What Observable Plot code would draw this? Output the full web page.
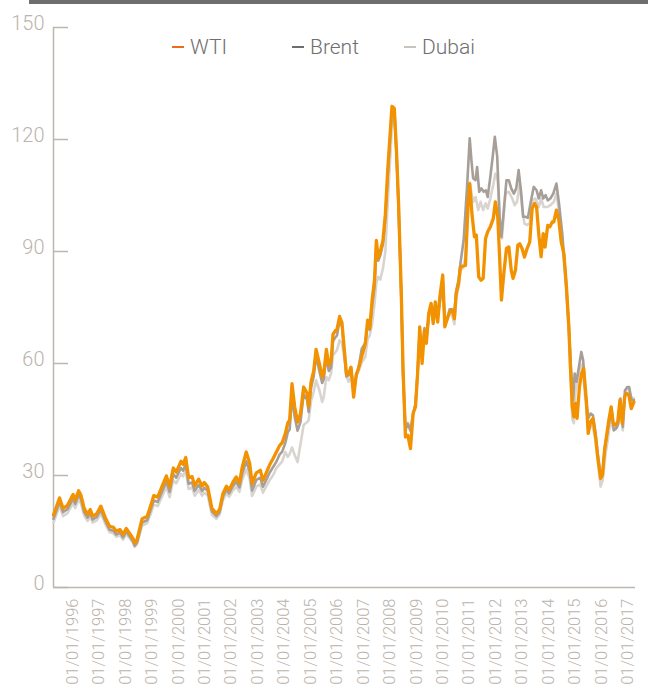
<!DOCTYPE html>
<html>
<head>
<meta charset="utf-8">
<script src="https://cdn.jsdelivr.net/npm/d3@7"></script>
<script src="https://cdn.jsdelivr.net/npm/@observablehq/plot@0.6"></script>
<style>
  body { margin: 0; background: #fff; }
  #wrap { position: relative; width: 648px; height: 686px; overflow: hidden;
          font-family: Roboto, "Helvetica Neue", Helvetica, "Liberation Sans", Arial, sans-serif; }
  #bar { position: absolute; left: 29px; top: 0; width: 619px; height: 4px; background: #6e6e6e; }
  #legend { position: absolute; left: 172px; top: 35px; display: flex; font-size: 21px;
            font-weight: 300; color: #6e6e6e; line-height: 24px; z-index: 2; }
  .item { display: flex; align-items: center; }
  .dash { display: inline-block; width: 12px; height: 2px; margin-right: 6px; }
  #chart { position: absolute; left: 0; top: 0; }
</style>
</head>
<body>
<div id="wrap"><div id="bar"></div><div id="chart"></div><div id="legend"></div></div>
<script>
// ---- data ----
const seriesNames = ["WTI", "Brent", "Dubai"];
const seriesColors = ["#f39200", "#a69e97", "#d9d4cf"];
const legendDashColors = ["#ee6a1c", "#6e6e6e", "#c9c3bd"];

const yTicks = [0, 30, 60, 90, 120, 150];
const xTickYears = [1996,1997,1998,1999,2000,2001,2002,2003,2004,2005,2006,2007,2008,2009,2010,2011,2012,2013,2014,2015,2016,2017];
const xTickLabels = ["01/01/1996","01/01/1997","01/01/1998","01/01/1999","01/01/2000","01/01/2001","01/01/2002","01/01/2003","01/01/2004","01/01/2005","01/01/2006","01/01/2007","01/01/2008","01/01/2009","01/01/2010","01/01/2011","01/01/2012","01/01/2013","01/01/2014","01/01/2015","01/01/2016","01/01/2017"];
const xDomain = [1995.28, 2017.29];

const wtiYear = [1995.28,1995.51,1995.64,1995.81,1996.02,1996.10,1996.23,1996.32,1996.44,1996.57,1996.67,1996.76,1996.92,1997.07,1997.24,1997.40,1997.55,1997.65,1997.80,1997.91,1998.03,1998.18,1998.29,1998.35,1998.44,1998.63,1998.82,1998.96,1999.07,1999.22,1999.38,1999.55,1999.67,1999.81,1999.92,2000.10,2000.18,2000.28,2000.39,2000.52,2000.62,2000.77,2000.90,2000.98,2001.11,2001.27,2001.44,2001.56,2001.69,2001.82,2001.92,2002.07,2002.19,2002.31,2002.42,2002.57,2002.70,2002.79,2002.95,2003.10,2003.20,2003.29,2003.45,2003.58,2003.71,2003.83,2003.93,2004.05,2004.14,2004.21,2004.30,2004.40,2004.51,2004.62,2004.74,2004.87,2004.93,2005.02,2005.12,2005.21,2005.35,2005.44,2005.50,2005.60,2005.69,2005.78,2005.85,2005.94,2006.00,2006.10,2006.19,2006.28,2006.36,2006.44,2006.53,2006.63,2006.73,2006.82,2006.94,2007.07,2007.16,2007.24,2007.33,2007.42,2007.49,2007.56,2007.64,2007.74,2007.83,2007.92,2008.02,2008.08,2008.17,2008.25,2008.33,2008.43,2008.50,2008.59,2008.68,2008.78,2008.88,2008.97,2009.05,2009.13,2009.22,2009.31,2009.38,2009.47,2009.56,2009.64,2009.72,2009.81,2009.89,2010.00,2010.08,2010.17,2010.26,2010.36,2010.44,2010.51,2010.60,2010.67,2010.76,2010.86,2010.95,2011.02,2011.11,2011.20,2011.27,2011.36,2011.45,2011.53,2011.62,2011.70,2011.80,2011.91,2011.99,2012.08,2012.15,2012.22,2012.31,2012.41,2012.50,2012.59,2012.66,2012.75,2012.84,2012.91,2013.00,2013.09,2013.19,2013.29,2013.38,2013.47,2013.55,2013.63,2013.72,2013.80,2013.87,2013.97,2014.05,2014.14,2014.20,2014.30,2014.39,2014.48,2014.58,2014.68,2014.77,2014.83,2014.90,2014.96,2015.02,2015.08,2015.17,2015.25,2015.33,2015.43,2015.50,2015.59,2015.68,2015.78,2015.86,2015.97,2016.04,2016.12,2016.19,2016.28,2016.37,2016.45,2016.53,2016.62,2016.70,2016.79,2016.88,2016.95,2017.04,2017.13,2017.23];
const wtiPrice = [19.4,24.0,21.2,22.0,24.9,23.4,25.9,24.7,21.2,19.6,20.9,19.1,19.8,21.8,18.7,16.4,16.1,15.1,15.5,14.2,15.8,14.3,13.1,11.9,12.9,18.4,19.0,22.0,24.6,24.2,27.0,29.9,27.0,32.0,30.9,33.8,33.0,34.8,29.4,29.7,27.3,29.0,27.2,28.1,27.0,21.2,19.8,20.9,25.2,27.1,26.1,28.3,29.6,28.0,32.3,36.3,33.2,27.9,30.7,31.4,28.7,30.1,32.8,34.5,36.3,38.0,38.8,41.3,44.1,44.8,54.6,48.4,44.3,46.5,53.7,52.0,48.5,55.0,58.0,63.8,59.5,56.4,57.3,63.8,59.5,60.9,67.8,68.8,69.1,72.6,70.9,63.6,57.0,57.2,59.0,51.0,57.0,58.8,62.0,65.2,71.6,69.4,77.0,82.3,93.0,88.3,90.0,93.0,100.0,111.8,122.5,128.9,128.3,117.1,102.9,79.6,58.5,40.3,40.8,37.2,46.6,48.4,57.3,69.8,60.0,68.9,65.4,73.4,76.1,70.7,76.5,71.1,77.8,83.7,69.8,72.0,73.8,74.3,72.0,78.8,81.4,85.9,86.1,86.3,101.9,108.2,99.7,93.9,94.4,83.2,82.3,82.8,93.5,95.3,96.6,98.8,103.3,99.3,88.6,77.0,84.1,90.8,91.2,85.0,82.8,85.0,91.7,92.1,90.8,88.5,90.8,92.5,101.5,102.9,101.9,94.8,88.6,94.8,91.2,97.0,96.6,97.9,97.9,101.1,98.4,92.6,89.5,80.5,69.8,59.1,48.4,45.7,49.3,45.3,53.7,57.3,58.7,50.2,41.3,44.4,45.3,40.3,35.0,29.2,30.1,36.8,40.3,44.8,48.4,43.9,43.5,44.4,50.2,43.9,51.1,52.0,51.5,47.9,49.7];

const brentYear = [1995.28,1995.51,1995.64,1995.81,1996.02,1996.10,1996.23,1996.32,1996.44,1996.57,1996.67,1996.76,1996.92,1997.07,1997.24,1997.40,1997.55,1997.65,1997.80,1997.91,1998.03,1998.18,1998.29,1998.35,1998.44,1998.63,1998.82,1998.96,1999.07,1999.22,1999.38,1999.55,1999.67,1999.81,1999.92,2000.10,2000.18,2000.28,2000.39,2000.52,2000.62,2000.77,2000.90,2000.98,2001.11,2001.27,2001.44,2001.56,2001.69,2001.82,2001.92,2002.07,2002.19,2002.31,2002.42,2002.57,2002.70,2002.79,2002.95,2003.10,2003.20,2003.29,2003.45,2003.58,2003.71,2003.83,2003.93,2004.05,2004.14,2004.21,2004.30,2004.40,2004.51,2004.62,2004.74,2004.87,2004.93,2005.02,2005.12,2005.21,2005.35,2005.44,2005.50,2005.60,2005.69,2005.78,2005.85,2005.94,2006.00,2006.10,2006.19,2006.28,2006.36,2006.44,2006.53,2006.63,2006.73,2006.82,2006.94,2007.07,2007.16,2007.24,2007.33,2007.42,2007.49,2007.56,2007.64,2007.74,2007.83,2007.92,2008.02,2008.08,2008.17,2008.25,2008.33,2008.43,2008.50,2008.59,2008.68,2008.78,2008.88,2008.97,2009.05,2009.13,2009.22,2009.31,2009.38,2009.47,2009.56,2009.64,2009.72,2009.81,2009.89,2010.00,2010.08,2010.17,2010.26,2010.36,2010.44,2010.51,2010.60,2010.67,2010.79,2010.92,2011.02,2011.09,2011.15,2011.24,2011.30,2011.38,2011.46,2011.55,2011.63,2011.70,2011.80,2011.89,2011.97,2012.06,2012.15,2012.22,2012.31,2012.41,2012.50,2012.59,2012.69,2012.78,2012.87,2012.97,2013.04,2013.13,2013.22,2013.32,2013.44,2013.55,2013.63,2013.72,2013.80,2013.89,2013.97,2014.07,2014.18,2014.30,2014.39,2014.52,2014.64,2014.77,2014.86,2014.93,2014.99,2015.06,2015.15,2015.24,2015.31,2015.40,2015.50,2015.59,2015.68,2015.78,2015.86,2015.97,2016.05,2016.13,2016.22,2016.31,2016.38,2016.47,2016.56,2016.64,2016.72,2016.81,2016.89,2016.98,2017.05,2017.14,2017.23];
const brentPrice = [18.4,23.0,20.2,21.0,23.8,22.4,24.8,23.7,20.2,18.7,20.0,18.2,18.9,20.8,17.8,15.5,15.2,14.2,14.7,13.4,15.0,13.5,12.3,11.2,12.1,17.4,18.0,20.9,23.3,22.9,25.6,28.4,25.6,30.4,29.4,32.0,31.3,33.0,27.8,28.1,25.9,27.5,25.8,26.7,25.9,20.4,19.1,20.2,24.4,26.2,25.2,27.2,28.3,26.8,30.6,33.8,31.0,26.0,28.8,29.4,27.0,28.3,30.7,32.2,33.7,35.6,36.4,38.8,41.6,42.3,51.0,45.8,42.0,44.3,51.8,50.3,47.0,53.5,56.5,62.0,57.5,54.8,55.8,62.0,58.0,59.0,66.0,67.0,67.5,71.6,70.0,62.8,56.5,56.8,59.0,52.5,56.8,59.0,64.0,65.5,70.5,69.0,75.5,80.5,91.0,87.5,89.0,92.0,99.0,110.5,121.5,128.0,127.5,116.5,102.0,78.5,57.0,42.5,43.8,42.0,46.5,49.0,57.5,68.5,63.0,69.5,66.5,72.5,75.5,71.5,75.5,73.0,76.5,82.0,70.5,72.0,74.5,74.5,73.5,79.5,82.5,86.8,93.0,107.3,120.3,114.0,109.6,109.1,112.6,106.0,106.9,106.0,106.4,104.6,110.0,115.4,120.7,115.4,99.3,93.9,101.1,109.1,109.1,106.9,105.5,106.9,111.8,105.5,99.3,99.3,99.0,102.9,107.3,106.4,104.2,106.4,104.2,105.1,103.7,104.2,105.5,108.2,103.3,94.8,84.1,69.8,57.3,50.2,57.3,55.1,59.1,63.1,60.9,52.0,45.3,46.6,46.1,41.3,35.9,30.1,31.0,37.7,41.3,44.8,47.9,42.1,42.6,43.9,50.6,43.0,52.8,53.7,53.7,50.2,50.2];

const dubaiYear = [1995.28,1995.51,1995.64,1995.81,1996.02,1996.10,1996.23,1996.32,1996.44,1996.57,1996.67,1996.76,1996.92,1997.07,1997.24,1997.40,1997.55,1997.65,1997.80,1997.91,1998.03,1998.18,1998.29,1998.35,1998.44,1998.63,1998.82,1998.96,1999.07,1999.22,1999.38,1999.55,1999.67,1999.81,1999.92,2000.10,2000.18,2000.28,2000.39,2000.52,2000.62,2000.77,2000.90,2000.98,2001.11,2001.27,2001.44,2001.56,2001.69,2001.82,2001.92,2002.07,2002.19,2002.31,2002.42,2002.57,2002.70,2002.79,2002.95,2003.10,2003.20,2003.29,2003.45,2003.58,2003.71,2003.83,2003.93,2004.05,2004.14,2004.21,2004.30,2004.40,2004.51,2004.62,2004.74,2004.87,2004.93,2005.02,2005.12,2005.21,2005.35,2005.44,2005.50,2005.60,2005.69,2005.78,2005.85,2005.94,2006.00,2006.10,2006.19,2006.28,2006.36,2006.44,2006.53,2006.63,2006.73,2006.82,2006.94,2007.07,2007.16,2007.24,2007.33,2007.42,2007.49,2007.56,2007.64,2007.74,2007.83,2007.92,2008.02,2008.08,2008.17,2008.25,2008.33,2008.43,2008.50,2008.59,2008.68,2008.78,2008.88,2008.97,2009.05,2009.13,2009.22,2009.31,2009.38,2009.47,2009.56,2009.64,2009.72,2009.81,2009.89,2010.00,2010.08,2010.17,2010.26,2010.36,2010.44,2010.51,2010.60,2010.67,2010.76,2010.86,2010.95,2011.02,2011.07,2011.15,2011.24,2011.34,2011.43,2011.53,2011.62,2011.70,2011.80,2011.91,2011.99,2012.08,2012.16,2012.24,2012.37,2012.50,2012.63,2012.72,2012.81,2012.91,2013.00,2013.09,2013.19,2013.29,2013.38,2013.51,2013.63,2013.72,2013.82,2013.95,2014.07,2014.20,2014.30,2014.39,2014.52,2014.64,2014.77,2014.90,2014.96,2015.02,2015.18,2015.27,2015.40,2015.52,2015.65,2015.78,2015.86,2015.97,2016.05,2016.16,2016.24,2016.34,2016.47,2016.60,2016.72,2016.81,2016.91,2017.00,2017.10,2017.23];
const dubaiPrice = [17.4,21.9,19.1,19.9,22.6,21.3,23.6,22.5,19.3,17.8,19.0,17.4,18.0,19.8,17.0,14.8,14.5,13.6,14.0,12.8,14.3,13.0,11.9,10.9,11.6,16.6,17.2,19.8,22.2,21.8,24.3,27.0,24.2,28.8,27.9,30.4,29.8,31.4,26.4,26.8,24.6,26.1,24.6,25.4,24.7,19.5,18.4,19.5,23.5,25.2,24.3,26.0,27.0,25.6,29.0,31.6,29.2,24.5,27.0,27.6,25.4,26.6,28.7,30.0,32.0,33.0,33.8,36.3,35.0,35.8,37.5,35.5,33.6,38.4,43.5,44.3,44.8,50.0,52.5,55.5,52.5,49.7,51.0,56.4,55.5,57.5,62.2,63.0,63.6,66.2,65.5,61.5,56.5,55.1,56.4,53.7,56.5,58.0,60.3,61.8,66.5,67.5,70.7,76.0,81.5,83.2,82.5,85.5,90.0,103.0,116.0,124.0,125.5,116.0,101.5,78.0,56.0,41.5,44.2,42.5,46.5,49.5,57.5,68.0,63.5,68.5,66.0,72.5,75.0,72.0,75.0,72.5,76.0,81.0,71.0,71.5,73.5,72.8,70.5,77.5,80.5,85.0,85.5,88.5,99.0,108.5,106.4,103.3,104.6,101.1,103.3,101.1,102.9,101.5,104.2,107.8,110.9,109.1,97.5,93.5,105.5,106.0,104.2,102.4,103.3,108.2,101.9,97.5,97.1,97.5,103.7,104.2,101.9,104.2,101.9,101.9,102.4,103.3,105.5,101.1,92.6,82.3,68.0,45.0,44.0,52.5,58.5,59.8,50.2,42.1,43.9,39.5,34.1,27.0,28.7,35.9,39.5,44.8,42.1,43.0,49.3,42.1,52.8,53.7,51.1,50.6];

// ---- build tables ----
const toRows = (years, prices) => years.map((y, i) => ({year: y, price: prices[i]}));
const wti = toRows(wtiYear, wtiPrice);
const brent = toRows(brentYear, brentPrice);
const dubai = toRows(dubaiYear, dubaiPrice);

const axisColor = "#bdb6af";
const labelColor = "#bbb3ac";
const font = 'Roboto, "Helvetica Neue", Helvetica, "Liberation Sans", Arial, sans-serif';

const chart = Plot.plot({
  width: 648,
  height: 686,
  marginTop: 27,
  marginBottom: 99,
  marginLeft: 53,
  marginRight: 13,
  style: {fontFamily: font, background: "transparent", overflow: "hidden"},
  x: {type: "linear", domain: xDomain, label: null},
  y: {domain: [0, 150], label: null},
  marks: [
    Plot.ruleY([0], {stroke: axisColor, strokeWidth: 1.5}),
    Plot.ruleX([xDomain[0]], {y1: 0, y2: 150, stroke: axisColor, strokeWidth: 1.5}),
    Plot.axisY({ticks: yTicks, tickSize: 15, dx: 15, fill: "none", stroke: axisColor, strokeWidth: 1.5, label: null}),
    Plot.axisY({ticks: yTicks, tickSize: 0, tickPadding: 9, dy: -4, fontSize: 20, fontWeight: 300, fill: labelColor, label: null}),
    Plot.axisX({ticks: xTickYears, tickSize: 0, tickPadding: 11, tickRotate: -90,
                tickFormat: d => xTickLabels[xTickYears.indexOf(d)],
                fontSize: 16.5, fontWeight: 300, fill: labelColor, label: null}),
    Plot.line(dubai, {x: "year", y: "price", stroke: seriesColors[2], strokeWidth: 2.6, strokeLinejoin: "round"}),
    Plot.line(brent, {x: "year", y: "price", stroke: seriesColors[1], strokeWidth: 2.6, strokeLinejoin: "round"}),
    Plot.line(wti, {x: "year", y: "price", stroke: seriesColors[0], strokeWidth: 3.3, strokeLinejoin: "round"})
  ]
});
document.getElementById("chart").appendChild(chart);

// ---- legend ----
const legend = document.getElementById("legend");
const itemWidths = ["120px", "112px", "auto"];
seriesNames.forEach((name, i) => {
  const item = document.createElement("div");
  item.className = "item";
  item.style.width = itemWidths[i];
  const dash = document.createElement("span");
  dash.className = "dash";
  dash.style.background = legendDashColors[i];
  const label = document.createElement("span");
  label.textContent = name;
  item.appendChild(dash);
  item.appendChild(label);
  legend.appendChild(item);
});
</script>
</body>
</html>
